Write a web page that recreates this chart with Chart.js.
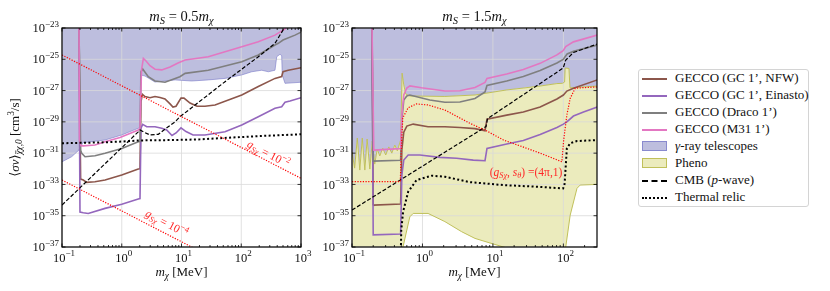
<!DOCTYPE html>
<html>
<head>
<meta charset="utf-8">
<script src="https://cdn.jsdelivr.net/npm/chart.js@4.4.0/dist/chart.umd.min.js"></script>
<style>
  body { margin: 0; background: #fff; width: 830px; height: 291px; position: relative; overflow: hidden; }
  canvas { position: absolute; top: 0; }
  #cL { left: 0; }
  #cR { left: 300px; }
  #legend { position: absolute; left: 638px; top: 69px; width: 171px; height: 138px; border: 1px solid #d4d4d4; border-radius: 3px;
            font-family: "Liberation Serif", "DejaVu Serif", serif; font-size: 13px; color: #111; box-sizing: border-box; }
  .row { position: relative; height: 17px; }
  .row span { position: absolute; left: 36px; top: 0px; white-space: nowrap; }
  .hl { position: absolute; left: 3px; width: 25px; top: 8px; height: 0; }
  .hp { position: absolute; left: 3px; width: 23px; top: 3px; height: 8px; }
</style>
</head>
<body>
<canvas id="cL" width="320" height="291"></canvas>
<canvas id="cR" width="310" height="291"></canvas>
<div id="legend"></div>
<script>
// axis ticks
const X_TICKS_L = [0.1, 1, 10, 100, 1000];
const X_EXP_L = ['\u22121', '0', '1', '2', '3'];
const X_TICKS_R = [0.1, 1, 10, 100];
const X_EXP_R = ['\u22121', '0', '1', '2'];
const Y_TICKS = [1e-23, 1e-25, 1e-27, 1e-29, 1e-31, 1e-33, 1e-35, 1e-37];
const Y_EXP = ['\u221223', '\u221225', '\u221227', '\u221229', '\u221231', '\u221233', '\u221235', '\u221237'];

// left panel, m_S = 0.5 m_chi  ([m_chi MeV, <sigma v> cm^3/s])
const NFW_L = [[0.1925,1e-23],[0.205,2.2e-33],[0.227,1.9e-33],[0.259,1.35e-33],[0.356,1.5e-33],[0.525,1.9e-33],[1.0,4.0e-33],[1.89,9.6e-33],[2.02,1.0e-32],[2.10,1.95e-28],[2.21,5.8e-28],[2.45,4.1e-28],[2.97,3.5e-28],[3.6,4.2e-28],[4.37,3.6e-28],[5.3,2.9e-28],[6.43,1.4e-28],[7.2,8.9e-29],[8.1,1.0e-28],[9.8,3.3e-28],[11.0,3.3e-28],[13.9,1.6e-28],[18.2,1.0e-28],[24.7,1.0e-28],[36.4,1.2e-28],[102,5.2e-28],[193,1.8e-27],[367,6.0e-27],[475,7.9e-27],[500,1.6e-26],[612,2.0e-26],[1000,2.9e-26]];
const EIN_L = [[0.1925,1e-23],[0.2,1.7e-35],[0.227,1.55e-35],[0.275,1.4e-35],[0.525,2.95e-35],[1.0,5.4e-35],[1.89,1.17e-34],[2.02,1.25e-34],[2.10,3.9e-30],[2.24,6.9e-30],[2.62,4.9e-30],[3.6,4.9e-30],[4.67,3.9e-30],[5.65,3.0e-30],[6.93,1.35e-30],[8.1,1.95e-30],[9.8,4.1e-30],[11.9,2.4e-30],[15.6,1.45e-30],[24.7,1.45e-30],[53.5,2.3e-30],[102,6.3e-30],[193,2.1e-29],[367,7.4e-29],[475,9.3e-29],[540,1.8e-28],[655,2.15e-28],[1000,3.5e-28]];
const DRACO_L = [[0.1925,1e-23],[0.205,1.5e-31],[0.214,9.8e-32],[0.243,5.9e-32],[0.356,6.8e-32],[0.525,9.8e-32],[1.0,2.0e-31],[1.89,5.4e-31],[2.02,5.6e-31],[2.10,1.6e-26],[2.24,2.4e-26],[2.78,7.7e-27],[3.6,4.1e-27],[5.3,3.4e-27],[9.4,7.7e-27],[11.5,1.26e-26],[28.1,2.0e-26],[102,7.0e-26],[193,1.9e-25],[367,8.2e-25],[417,1.05e-24],[500,1.7e-24],[794,3.5e-24],[1000,5.4e-24]];
const M31_L = [[0.1925,1e-23],[0.196,6.9e-31],[0.208,2.95e-31],[0.227,2.9e-31],[0.356,3.3e-31],[0.525,5.4e-31],[0.935,1.0e-30],[1.89,3.0e-30],[2.02,4.1e-30],[2.14,2.0e-26],[2.30,1.15e-25],[2.55,7.8e-26],[2.97,3.9e-26],[3.6,2.3e-26],[4.67,2.1e-26],[6.43,3.2e-26],[8.74,5.8e-26],[11.5,8.9e-26],[28.1,1.45e-25],[102,6.3e-25],[193,1.3e-24],[367,3.5e-24],[540,8.7e-24],[650,1.6e-23]];
const GAMMA_L = [[0.1,2.8e-32],[0.145,5.9e-32],[0.1925,1.6e-31],[0.225,4.7e-31],[0.525,6.9e-31],[1.0,1.45e-30],[1.89,3.9e-30],[2.02,4.7e-30],[2.06,1.0e-26],[2.45,8.5e-27],[3.6,3.5e-27],[7.8,4.8e-27],[14.8,4.1e-27],[28.1,4.8e-27],[53.5,6.0e-27],[102,1.0e-26],[150,1.6e-26],[220,2.0e-26],[284,1.6e-26],[367,2.0e-26],[392,1.45e-25],[445,2.1e-25],[475,1.7e-25],[486,1.0e-26],[540,2.9e-27],[1000,3.4e-27]];
const CMB_L = [[0.1,4.8e-35],[1.89,2.3e-30],[2.02,3.0e-30],[2.30,2.3e-30],[2.97,1.45e-30],[4.09,1.6e-30],[6.0,4.9e-30],[7.8,1.0e-29],[9.4,2.1e-29],[53.5,3.7e-27],[193,1.45e-25],[367,1.05e-24],[445,3.55e-24],[540,1.2e-23]];
const THERMAL_L = [[0.1,4.3e-31],[0.5,4.9e-31],[1.0,5.5e-31],[2.0,6.5e-31],[7.8,6.9e-31],[20.5,7.6e-31],[72,1.0e-30],[267,1.3e-30],[1000,1.6e-30]];
const G2_L = [[0.1,1.9e-25],[1000,2.45e-33]];
const G4_L = [[0.1,1.9e-33],[1000,2.45e-41]];

// right panel, m_S = 1.5 m_chi
const NFW_R = [[0.1925,1e-23],[0.2,5.0e-35],[0.204,4.8e-35],[0.49,5.6e-35],[0.51,1.6e-31],[0.543,2.2e-30],[0.60,5.4e-30],[0.738,7.2e-30],[1.2,4.9e-30],[2.08,4.9e-30],[3.4,4.4e-30],[5.56,3.7e-30],[7.72,2.7e-30],[8.24,1.5e-29],[15.7,2.7e-29],[27,4.3e-29],[46.8,8.9e-29],[81,2.9e-28],[100,5.2e-28],[112,9.3e-28],[139,1.4e-27],[303,4.8e-27]];
const EIN_R = [[0.1925,1e-23],[0.2,6.0e-37],[0.49,6.7e-37],[0.51,4.0e-33],[0.543,3.6e-32],[0.627,7.6e-32],[0.918,7.6e-32],[1.77,5.4e-32],[3.05,4.7e-32],[5.26,3.6e-32],[7.72,3.3e-32],[8.24,2.0e-31],[15.7,3.8e-31],[27,6.4e-31],[46.8,1.55e-30],[81,4.4e-30],[100,7.2e-30],[112,1.0e-29],[139,2.35e-29],[193,4.3e-29],[303,8.9e-29]];
const DRACO_R = [[0.1925,1e-23],[0.2,3.1e-32],[0.49,3.5e-32],[0.51,1.3e-29],[0.543,2.5e-28],[0.60,4.5e-28],[0.662,5.2e-28],[1.27,2.5e-28],[2.08,1.8e-28],[3.4,1.85e-28],[5.56,3.1e-28],[7.72,8.1e-28],[8.24,2.1e-27],[15.7,4.1e-27],[27,7.9e-27],[46.8,1.9e-26],[81,5.8e-26],[99.3,9.7e-26],[113,2.2e-25],[139,3.2e-25],[303,8.2e-25]];
const M31_R = [[0.1925,1e-23],[0.204,1.58e-31],[0.477,1.95e-31],[0.49,2.0e-31],[0.51,2.7e-29],[0.543,5.2e-28],[0.60,1.45e-27],[0.662,2.0e-27],[0.97,1.5e-27],[2.08,9.3e-28],[3.4,9.8e-28],[5.56,1.58e-27],[7.72,3.3e-27],[8.24,5.9e-27],[15.7,1.15e-26],[27,2.2e-26],[46.8,5.5e-26],[81,1.9e-25],[99.3,3.6e-25],[108,6.6e-25],[139,1.3e-24],[303,3.55e-24]];
const PHENO_TOP_R = [[0.1,1.2e-31],[0.109,1.1e-32],[0.119,9.3e-31],[0.129,8.3e-33],[0.14,9.3e-31],[0.152,8.3e-33],[0.164,8.0e-31],[0.179,9.6e-33],[0.194,5.9e-31],[0.21,2.0e-32],[0.228,1.8e-31],[0.248,6.6e-32],[0.273,2.1e-31],[0.301,7.6e-32],[0.333,2.5e-31],[0.367,1.0e-31],[0.405,3.3e-31],[0.44,1.4e-31],[0.477,4.5e-31],[0.49,6.9e-31],[0.514,1.3e-26],[0.543,2.3e-27],[0.58,6.0e-28],[0.662,4.5e-28],[2.08,4.2e-28],[5.56,5.2e-28],[15.7,1.1e-27],[27,1.45e-27],[46.8,1.95e-27],[81,2.8e-27],[97,2.9e-27],[104,3.5e-27],[106,2.75e-26],[120,2.6e-26],[124,1.5e-27],[303,1.95e-27]];
const PHENO_BOT_R = [[0.1,1e-38],[0.525,1e-38],[0.531,1.05e-37],[0.662,8.5e-36],[0.738,1.4e-35],[1.2,1.4e-35],[2.08,4.2e-36],[3.6,9.5e-37],[5.56,3.55e-37],[9.1,1.8e-37],[14.9,9.3e-38],[17,1e-38],[97,1e-38],[108,1e-37],[125,1.1e-35],[156,5.6e-34],[173,9.1e-34],[303,1.0e-33]];
const CMB_R = [[0.1,2.3e-35],[7.98,5.0e-30],[8.38,1.6e-29],[99.3,2.75e-26],[108,8.9e-26],[139,2.7e-25],[303,9.5e-25]];
const THERMAL_R = [[0.49,1e-38],[0.50,1.2e-36],[0.531,1.8e-35],[0.627,3.4e-34],[0.824,1.9e-33],[1.35,3.6e-33],[2.08,3.1e-33],[4.72,1.4e-33],[14.1,9.1e-34],[42,7.1e-34],[99.3,5.6e-34],[104,1.05e-33],[112,2.0e-31],[125,4.3e-31],[156,5.9e-31],[303,6.9e-31]];
const G4PI_R = [[0.1,1.5e-33],[0.485,1.5e-33],[0.50,1.6e-31],[0.526,1.8e-29],[0.627,8.0e-29],[0.824,1.4e-28],[1.2,1.2e-28],[2.08,5.7e-29],[4.72,8.1e-30],[8.2,2.6e-30],[14.1,6.9e-31],[24.3,2.9e-31],[46.8,1.0e-31],[95.2,2.8e-32],[101,6.9e-31],[112,2.75e-29],[125,3.2e-28],[147,1.4e-27],[173,1.5e-27],[303,1.7e-27]];

const C = {
  nfw: '#8c564b', ein: '#9467bd', draco: '#7f7f7f', m31: '#e377c2',
  gamma: 'rgb(189,190,222)', gammaEdge: 'rgba(120,120,200,0.75)',
  pheno: 'rgb(235,235,189)', phenoEdge: 'rgb(192,192,90)'
};
const FONT = '"Liberation Serif", "DejaVu Serif", serif';

const pts = a => a.map(([x, y]) => ({ x, y }));
const line = (a, color, width, dash, order) => ({ data: pts(a), borderColor: color, borderWidth: width, borderDash: dash, fill: false, order });

// draws text runs: [text, flags] with flags 'i', 'sub', 'sup', 'bar'
function rich(ctx, runs, x, y, align, base) {
  let w = 0;
  const items = runs.map(([t, f = '']) => {
    const fl = f.split(' ');
    const small = fl.includes('sub') || fl.includes('sup');
    const size = small ? base * 0.72 : base;
    const font = (fl.includes('i') ? 'italic ' : '') + size + 'px ' + FONT;
    ctx.font = font;
    const tw = ctx.measureText(t).width;
    w += tw;
    return { t, font, tw, size, bar: fl.includes('bar'),
      dy: fl.includes('sup') ? -base * 0.42 : fl.includes('sub') ? base * 0.22 : 0 };
  });
  let cx = align === 'center' ? x - w / 2 : align === 'right' ? x - w : x;
  ctx.textAlign = 'left';
  ctx.textBaseline = 'alphabetic';
  items.forEach(it => {
    ctx.font = it.font;
    ctx.fillText(it.t, cx, y + it.dy);
    if (it.bar) {
      ctx.fillRect(cx + 0.5, y + it.dy - it.size * 0.68, it.tw - 0.5, 0.7);
    }
    cx += it.tw;
  });
}

function deco(cfg) {
  return {
    id: 'deco',
    beforeDatasetsDraw(chart) {
      const { ctx, chartArea: a, scales: { x, y } } = chart;
      ctx.save();
      ctx.strokeStyle = '#d9d9d9';
      ctx.lineWidth = 0.8;
      ctx.beginPath();
      cfg.xTicks.forEach(v => {
        const px = x.getPixelForValue(v);
        ctx.moveTo(px, a.top); ctx.lineTo(px, a.bottom);
      });
      Y_TICKS.forEach(v => {
        const py = y.getPixelForValue(v);
        ctx.moveTo(a.left, py); ctx.lineTo(a.right, py);
      });
      ctx.stroke();
      ctx.restore();
    },
    afterDatasetsDraw(chart) {
      const { ctx, chartArea: a, scales: { x, y } } = chart;
      ctx.save();
      ctx.strokeStyle = '#000';
      ctx.lineWidth = 0.8;
      ctx.beginPath();
      const tick = (px, len) => {
        ctx.moveTo(px, a.bottom); ctx.lineTo(px, a.bottom - len);
        ctx.moveTo(px, a.top); ctx.lineTo(px, a.top + len);
      };
      cfg.xTicks.forEach(v => tick(x.getPixelForValue(v), 3.5));
      cfg.xTicks.forEach(d => {
        for (let k = 2; k <= 9; k++) {
          const v = d * k;
          if (v < x.max) tick(x.getPixelForValue(v), 2);
        }
      });
      Y_TICKS.forEach(v => {
        const py = y.getPixelForValue(v);
        ctx.moveTo(a.left, py); ctx.lineTo(a.left + 3.5, py);
        ctx.moveTo(a.right, py); ctx.lineTo(a.right - 3.5, py);
      });
      ctx.stroke();
      ctx.lineWidth = 1.2;
      ctx.strokeRect(a.left, a.top, a.right - a.left, a.bottom - a.top);
      ctx.restore();
    },
    afterDraw(chart) {
      const { ctx, chartArea: a, scales: { x, y } } = chart;
      const mid = (a.left + a.right) / 2;
      ctx.save();
      ctx.fillStyle = '#111';
      cfg.xTicks.forEach((v, i) => rich(ctx, [['10'], [cfg.xExp[i], 'sup']], x.getPixelForValue(v) + 2, a.bottom + 14.5, 'center', 12.5));
      Y_TICKS.forEach((v, i) => rich(ctx, [['10'], [Y_EXP[i], 'sup']], a.left - 3, y.getPixelForValue(v) + 4.2, 'right', 12.5));
      rich(ctx, [['m', 'i'], ['S', 'i sub'], [' = ' + cfg.ratio], ['m', 'i'], ['\u03c7', 'i sub']], mid, 20.5, 'center', 14.5);
      rich(ctx, [['m', 'i'], ['\u03c7', 'i sub'], [' [MeV]']], mid, 276, 'center', 13);
      if (cfg.yLabel) {
        ctx.save();
        ctx.translate(19, (a.top + a.bottom) / 2);
        ctx.rotate(-Math.PI / 2);
        rich(ctx, [['\u27e8'], ['\u03c3v', 'i'], ['\u27e9'], ['\u03c7', 'i sub bar'], ['\u03c7,0', 'i sub'], [' [cm'], ['3', 'sup'], ['/s]']], 0, 0, 'center', 13);
        ctx.restore();
      }
      ctx.fillStyle = 'rgb(255,40,40)';
      cfg.notes(ctx, a);
      ctx.restore();
    }
  };
}

function makeChart(id, datasets, xMax, cfg, pad, yWidth) {
  return new Chart(document.getElementById(id), {
    type: 'line',
    data: { datasets },
    options: {
      responsive: false,
      animation: false,
      devicePixelRatio: 1,
      layout: { padding: pad },
      elements: { point: { radius: 0 }, line: { tension: 0 } },
      plugins: { legend: { display: false }, tooltip: { enabled: false }, filler: { drawTime: 'beforeDatasetsDraw' } },
      scales: {
        x: { type: 'logarithmic', min: 0.1, max: xMax, ticks: { display: false }, grid: { display: false }, border: { display: false },
             afterFit: s => { s.height = 44; } },
        y: { type: 'logarithmic', min: 1e-37, max: 1e-23, ticks: { display: false }, grid: { display: false }, border: { display: false },
             afterFit: s => { s.width = yWidth; } }
      }
    },
    plugins: [deco(cfg)]
  });
}

const RED = 'rgb(255,0,0)';
const DOT_R = [1.2, 1.5];
const DOT_K = [2, 2.4];
const DASH_K = [4, 2];

makeChart('cL', [
  line(G2_L, RED, 1.2, DOT_R, 1),
  line(G4_L, RED, 1.2, DOT_R, 1),
  line(THERMAL_L, '#000', 2, DOT_K, 2),
  line(CMB_L, '#000', 1.2, DASH_K, 3),
  line(M31_L, C.m31, 1.6, [], 4),
  line(DRACO_L, C.draco, 1.6, [], 5),
  line(EIN_L, C.ein, 1.6, [], 6),
  line(NFW_L, C.nfw, 1.6, [], 7),
  { data: pts(GAMMA_L), borderColor: C.gammaEdge, borderWidth: 0.8, backgroundColor: C.gamma, fill: 'end', order: 20 }
], 1000, {
  xTicks: X_TICKS_L, xExp: X_EXP_L, ratio: '0.5', yLabel: true,
  notes(ctx) {
    const ang = 27.5 * Math.PI / 180;
    [[266.7, 157, '\u22122'], [165, 226.5, '\u22124']].forEach(([cx, cy, e]) => {
      ctx.save();
      ctx.translate(cx, cy);
      ctx.rotate(ang);
      rich(ctx, [['g', 'i'], ['S\u03c7', 'i sub'], [' = 10'], [e, 'sup']], 0, 0, 'center', 11.5);
      ctx.restore();
    });
  }
}, { left: 0, right: 19, top: 28, bottom: 0 }, 62);

makeChart('cR', [
  line(G4PI_R, RED, 1.2, DOT_R, 1),
  line(THERMAL_R, '#000', 2, DOT_K, 2),
  line(CMB_R, '#000', 1.2, DASH_K, 3),
  line(M31_R, C.m31, 1.6, [], 4),
  line(DRACO_R, C.draco, 1.6, [], 5),
  line(EIN_R, C.ein, 1.6, [], 6),
  line(NFW_R, C.nfw, 1.6, [], 7),
  { data: pts(PHENO_TOP_R), borderColor: C.phenoEdge, borderWidth: 1, backgroundColor: C.pheno, fill: '+1', order: 15 },
  { data: pts(PHENO_BOT_R), borderColor: C.phenoEdge, borderWidth: 1, fill: false, order: 16 },
  { data: pts(PHENO_TOP_R), borderColor: 'rgba(0,0,0,0)', borderWidth: 1, backgroundColor: C.gamma, fill: 'end', order: 20 }
], 300, {
  xTicks: X_TICKS_R, xExp: X_EXP_R, ratio: '1.5', yLabel: false,
  notes(ctx) {
    rich(ctx, [['('], ['g', 'i'], ['S\u03c7', 'i sub'], [', '], ['s', 'i'], ['\u03b8', 'i sub'], [') =(4\u03c0,1)']], 226, 175.5, 'center', 11.5);
  }
}, { left: 0, right: 13, top: 28, bottom: 0 }, 52);

// legend
const LEGEND = [
  ['GECCO (GC 1\u2019, NFW)', 'line', C.nfw, 'solid'],
  ['GECCO (GC 1\u2019, Einasto)', 'line', C.ein, 'solid'],
  ['GECCO (Draco 1\u2019)', 'line', C.draco, 'solid'],
  ['GECCO (M31 1\u2019)', 'line', C.m31, 'solid'],
  ['<i>\u03b3</i>-ray telescopes', 'patch', C.gamma, C.gammaEdge],
  ['Pheno', 'patch', C.pheno, C.phenoEdge],
  ['CMB (<i>p</i>-wave)', 'line', '#000', 'dashed'],
  ['Thermal relic', 'line', '#000', 'dotted']
];
document.getElementById('legend').innerHTML = LEGEND.map(([label, kind, col, st]) => {
  const h = kind === 'line'
    ? `<div class="hl" style="border-top:2px ${st} ${col}"></div>`
    : `<div class="hp" style="background:${col};border:1px solid ${st}"></div>`;
  return `<div class="row">${h}<span>${label}</span></div>`;
}).join('');
</script>
</body>
</html>
